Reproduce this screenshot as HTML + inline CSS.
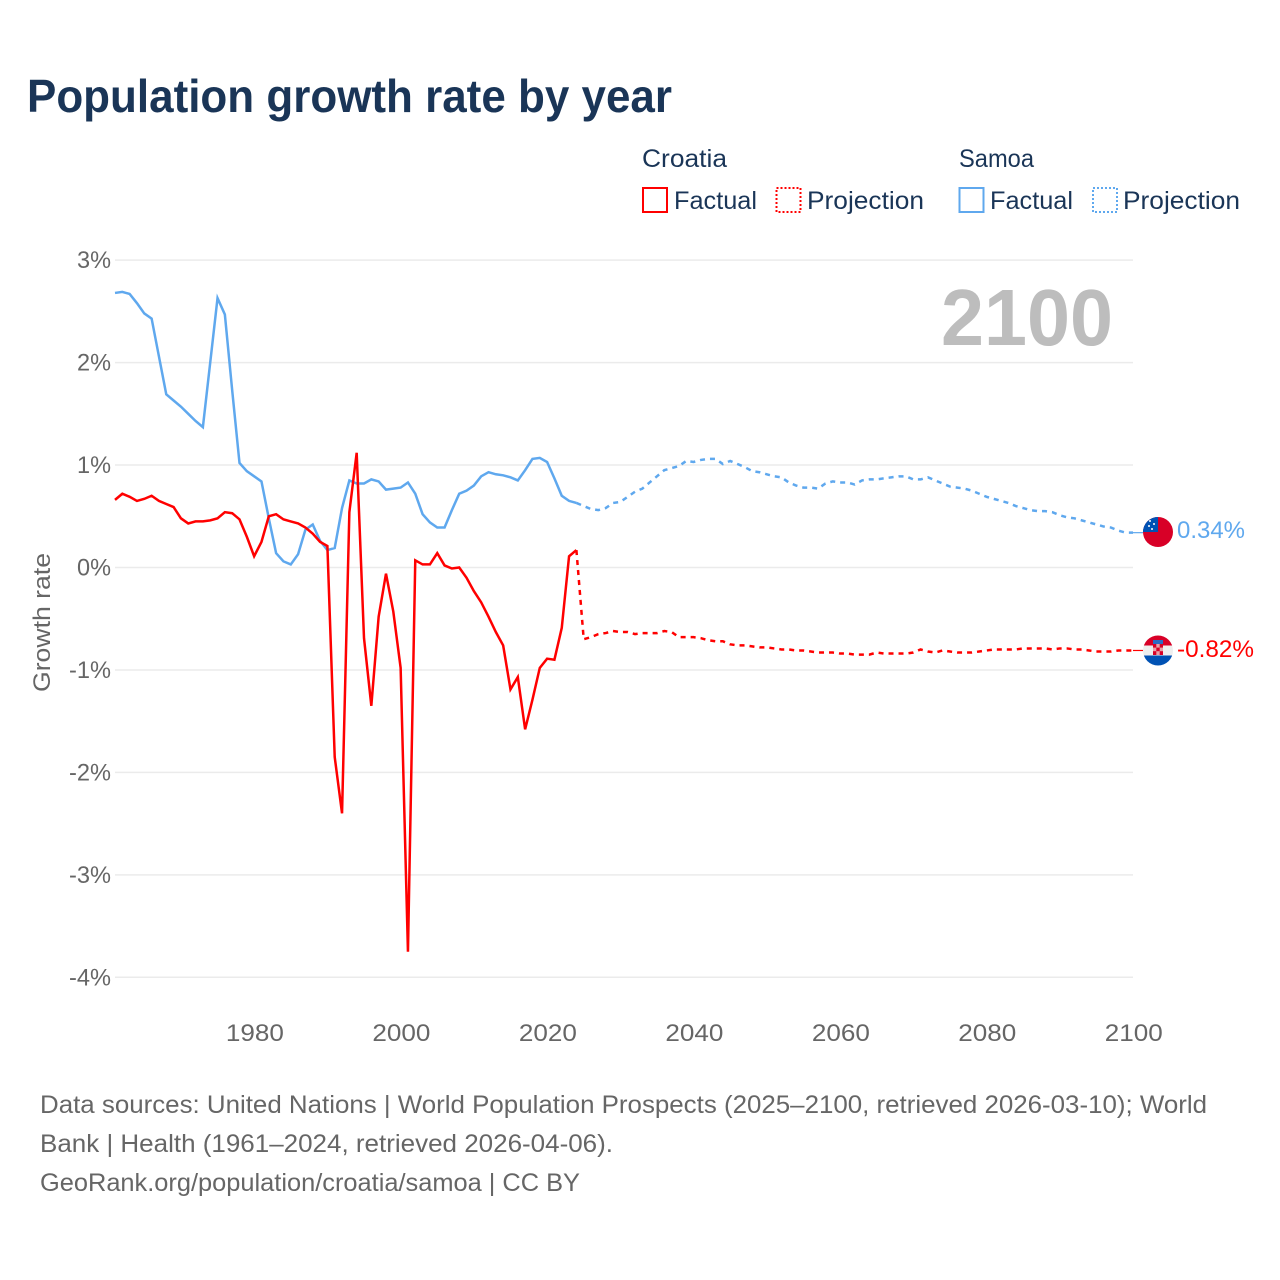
<!DOCTYPE html>
<html lang="en">
<head>
<meta charset="utf-8">
<title>Population growth rate by year</title>
<style>
html,body{margin:0;padding:0;background:#fff}
svg{display:block}
text{font-family:"Liberation Sans",sans-serif}
</style>
</head>
<body>
<svg id="chart" xmlns="http://www.w3.org/2000/svg" width="1280" height="1280" viewBox="0 0 1280 1280">
  <defs>
    <clipPath id="flag-clip-a"><circle cx="1158" cy="532" r="15"/></clipPath>
    <clipPath id="flag-clip-b"><circle cx="1158" cy="650.5" r="15"/></clipPath>
  </defs>
  <rect width="1280" height="1280" fill="#fff"/>
  <text x="27" y="112" font-size="46" font-weight="700" fill="#1a3557" textLength="645" lengthAdjust="spacingAndGlyphs">Population growth rate by year</text>

  <g font-size="25" fill="#1a3557">
    <text x="642" y="167" textLength="85" lengthAdjust="spacingAndGlyphs">Croatia</text>
    <rect x="643" y="188" width="24" height="24" fill="none" stroke="#ff0000" stroke-width="2"/>
    <text x="674" y="209" textLength="83" lengthAdjust="spacingAndGlyphs">Factual</text>
    <rect x="776.5" y="188" width="24" height="24" fill="none" stroke="#ff0000" stroke-width="2" stroke-dasharray="2 2"/>
    <text x="807" y="209" textLength="117" lengthAdjust="spacingAndGlyphs">Projection</text>
    <text x="959" y="167" textLength="75" lengthAdjust="spacingAndGlyphs">Samoa</text>
    <rect x="959.5" y="188" width="24" height="24" fill="none" stroke="#5fa8ee" stroke-width="2"/>
    <text x="990" y="209" textLength="83" lengthAdjust="spacingAndGlyphs">Factual</text>
    <rect x="1093" y="188" width="24" height="24" fill="none" stroke="#5fa8ee" stroke-width="2" stroke-dasharray="2 2"/>
    <text x="1123" y="209" textLength="117" lengthAdjust="spacingAndGlyphs">Projection</text>
  </g>

  <g id="grid"></g>
  <g id="y-ticks"></g>
  <g id="x-ticks"></g>
  <text transform="translate(50,692) rotate(-90)" font-size="24" fill="#666" textLength="139" lengthAdjust="spacingAndGlyphs">Growth rate</text>
  <text x="941" y="345" font-size="80" font-weight="700" fill="#bdbdbd" textLength="172" lengthAdjust="spacingAndGlyphs">2100</text>

  <g id="series"></g>

  <g clip-path="url(#flag-clip-a)">
    <rect x="1143" y="517" width="30" height="30" fill="#d80027"/>
    <rect x="1143" y="517" width="15" height="15" fill="#0052b4"/>
    <circle cx="1150" cy="521" r="1" fill="#fff"/>
    <circle cx="1154" cy="524" r="1" fill="#fff"/>
    <circle cx="1149" cy="526" r="1" fill="#fff"/>
    <circle cx="1152" cy="529" r="1" fill="#fff"/>
  </g>
  <g clip-path="url(#flag-clip-b)">
    <rect x="1143" y="635.5" width="30" height="10" fill="#d80027"/>
    <rect x="1143" y="645.5" width="30" height="10" fill="#eeeeee"/>
    <rect x="1143" y="655.5" width="30" height="10.5" fill="#0052b4"/>
    <rect x="1153" y="640" width="10" height="4" fill="#2b6cc4"/>
    <rect x="1153" y="644" width="10" height="11" fill="#e8a0a8"/>
    <rect x="1153" y="644" width="3.3" height="3.6" fill="#d80027"/>
    <rect x="1159.7" y="644" width="3.3" height="3.6" fill="#d80027"/>
    <rect x="1156.3" y="647.6" width="3.4" height="3.6" fill="#d80027"/>
    <rect x="1153" y="651.2" width="3.3" height="3.8" fill="#d80027"/>
    <rect x="1159.7" y="651.2" width="3.3" height="3.8" fill="#d80027"/>
  </g>
  <text x="1177" y="538" font-size="24" fill="#5fa8ee" textLength="68" lengthAdjust="spacingAndGlyphs">0.34%</text>
  <text x="1177" y="657" font-size="24" fill="#ff0000" textLength="77" lengthAdjust="spacingAndGlyphs">-0.82%</text>

  <g font-size="25" fill="#666">
    <text x="40" y="1113" textLength="1167" lengthAdjust="spacingAndGlyphs">Data sources: United Nations | World Population Prospects (2025–2100, retrieved 2026-03-10); World</text>
    <text x="40" y="1152" textLength="573" lengthAdjust="spacingAndGlyphs">Bank | Health (1961–2024, retrieved 2026-04-06).</text>
    <text x="40" y="1191" textLength="540" lengthAdjust="spacingAndGlyphs">GeoRank.org/population/croatia/samoa | CC BY</text>
  </g>
</svg>
<script>
const yTickValues = [3, 2, 1, 0, -1, -2, -3, -4];
const xTickYears = [1980, 2000, 2020, 2040, 2060, 2080, 2100];
const factualStartYear = 1961;
const projectionStartYear = 2025;

const croatiaFactual = [0.66,0.72,0.69,0.65,0.67,0.70,0.65,0.62,0.59,0.48,0.43,0.45,0.45,0.46,0.48,0.54,0.53,0.47,0.30,0.11,0.25,0.50,0.52,0.47,0.45,0.43,0.39,0.33,0.25,0.21,-1.85,-2.40,0.54,1.12,-0.69,-1.35,-0.48,-0.06,-0.43,-0.98,-3.75,0.07,0.03,0.03,0.14,0.02,-0.01,0.00,-0.10,-0.23,-0.34,-0.48,-0.63,-0.76,-1.19,-1.07,-1.58,-1.29,-0.98,-0.89,-0.90,-0.59,0.11,0.17];
const croatiaProjection = [-0.70,-0.68,-0.65,-0.64,-0.62,-0.63,-0.63,-0.65,-0.64,-0.64,-0.64,-0.62,-0.63,-0.68,-0.68,-0.68,-0.69,-0.71,-0.72,-0.72,-0.75,-0.76,-0.76,-0.77,-0.78,-0.78,-0.79,-0.80,-0.80,-0.81,-0.81,-0.82,-0.83,-0.83,-0.83,-0.84,-0.84,-0.85,-0.85,-0.85,-0.83,-0.84,-0.84,-0.84,-0.84,-0.83,-0.80,-0.82,-0.83,-0.81,-0.82,-0.83,-0.83,-0.83,-0.82,-0.81,-0.80,-0.80,-0.80,-0.80,-0.79,-0.79,-0.79,-0.79,-0.80,-0.79,-0.79,-0.80,-0.80,-0.81,-0.82,-0.82,-0.82,-0.81,-0.81,-0.81];
const samoaFactual = [2.68,2.69,2.67,2.58,2.48,2.43,2.06,1.69,1.63,1.57,1.50,1.43,1.37,2.00,2.63,2.47,1.73,1.02,0.94,0.89,0.84,0.48,0.14,0.06,0.03,0.13,0.37,0.42,0.26,0.17,0.19,0.58,0.85,0.82,0.82,0.86,0.84,0.76,0.77,0.78,0.83,0.72,0.52,0.44,0.39,0.39,0.56,0.72,0.75,0.80,0.89,0.93,0.91,0.90,0.88,0.85,0.95,1.06,1.07,1.03,0.87,0.70,0.65,0.63];
const samoaProjection = [0.60,0.57,0.56,0.58,0.63,0.64,0.69,0.74,0.77,0.83,0.89,0.95,0.97,0.99,1.04,1.03,1.05,1.06,1.06,1.01,1.04,1.01,0.98,0.94,0.93,0.91,0.89,0.88,0.83,0.80,0.78,0.78,0.77,0.82,0.84,0.83,0.83,0.81,0.85,0.86,0.86,0.87,0.88,0.89,0.89,0.86,0.86,0.88,0.85,0.82,0.79,0.78,0.77,0.75,0.72,0.69,0.67,0.65,0.63,0.60,0.58,0.56,0.55,0.55,0.54,0.51,0.49,0.48,0.46,0.44,0.42,0.40,0.39,0.36,0.34,0.34];

const NS = 'http://www.w3.org/2000/svg';
const xScale = year => 115 + (year - 1961) * (1133 - 115) / 139;
const yScale = value => 567.5 - value * 102.45;
const gridGroup = document.getElementById('grid');
const yTickGroup = document.getElementById('y-ticks');
const xTickGroup = document.getElementById('x-ticks');
const seriesGroup = document.getElementById('series');

yTickValues.forEach(value => {
  const line = document.createElementNS(NS, 'line');
  
  
  line.setAttribute('x1', 115);
  line.setAttribute('x2', 1133);
  line.setAttribute('y1', yScale(value));
  line.setAttribute('y2', yScale(value));
  line.setAttribute('stroke', '#ebebeb');
  line.setAttribute('stroke-width', 1.5);
  gridGroup.appendChild(line);

  const label = document.createElementNS(NS, 'text');
  
  
  const str = value + '%';
  const w = value < 0 ? 42 : 34;
  label.setAttribute('x', 111 - w);
  label.setAttribute('y', yScale(value) + 8);
  label.setAttribute('font-size', 24);
  label.setAttribute('fill', '#666');
  label.setAttribute('textLength', w);
  label.setAttribute('lengthAdjust', 'spacingAndGlyphs');
  label.textContent = str;
  yTickGroup.appendChild(label);
});

xTickYears.forEach(year => {
  const label = document.createElementNS(NS, 'text');
  
  
  label.setAttribute('x', xScale(year) - 28.2);
  label.setAttribute('y', 1041);
  label.setAttribute('font-size', 24);
  label.setAttribute('fill', '#666');
  label.setAttribute('textLength', 58);
  label.setAttribute('lengthAdjust', 'spacingAndGlyphs');
  label.textContent = String(year);
  xTickGroup.appendChild(label);
});

function buildPath(startYear, values) {
  return values.map((v, i) => (i ? 'L' : 'M') + xScale(startYear + i).toFixed(2) + ' ' + yScale(v).toFixed(2)).join(' ');
}

function appendLine(name, d, color, dash) {
  const path = document.createElementNS(NS, 'path');
  
  
  path.setAttribute('d', d);
  path.setAttribute('fill', 'none');
  path.setAttribute('stroke', color);
  path.setAttribute('stroke-width', 2.5);
  if (dash) path.setAttribute('stroke-dasharray', dash);
  seriesGroup.appendChild(path);
}

function drawCountry(prefix, factual, projection, color) {
  const lastYear = factualStartYear + factual.length - 1;
  const lastValue = factual[factual.length - 1];
  appendLine(prefix + '-factual-line', buildPath(factualStartYear, factual), color);
  const dashed = 'M' + xScale(lastYear).toFixed(2) + ' ' + yScale(lastValue).toFixed(2) + ' ' + buildPath(projectionStartYear, projection).replace(/^M/, 'L');
  appendLine(prefix + '-projection-line', dashed, color, '5 5');
  const endYear = projectionStartYear + projection.length - 1;
  const endX = xScale(endYear);
  const endY = yScale(projection[projection.length - 1]);
  const connector = document.createElementNS(NS, 'line');
  
  
  connector.setAttribute('x1', endX);
  connector.setAttribute('x2', endX + 10);
  connector.setAttribute('y1', endY);
  connector.setAttribute('y2', endY);
  connector.setAttribute('stroke', color);
  connector.setAttribute('stroke-width', 1.2);
  seriesGroup.appendChild(connector);
}

drawCountry('samoa', samoaFactual, samoaProjection, '#5fa8ee');
drawCountry('croatia', croatiaFactual, croatiaProjection, '#ff0000');
</script>
</body>
</html>
